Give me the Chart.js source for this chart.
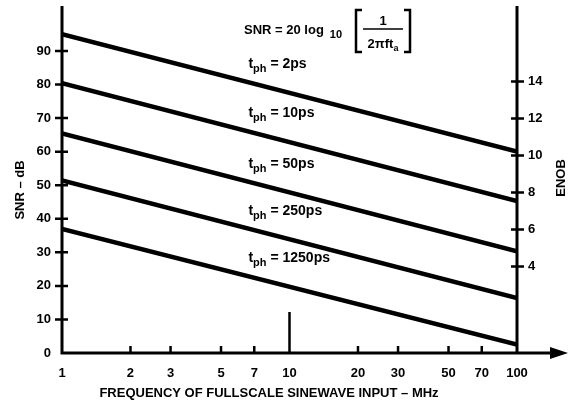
<!DOCTYPE html>
<html>
<head>
<meta charset="utf-8">
<script src="https://cdn.jsdelivr.net/npm/chart.js@4/dist/chart.umd.min.js"></script>
<style>
  body { margin: 0; background: #fff; }
  #wrap { width: 570px; height: 404px; position: relative; }
</style>
</head>
<body>
<div id="wrap"><canvas id="chartSnr"></canvas></div>
<script>
// aperture jitter lines, SNR in dB read at 1 MHz and 100 MHz
var freqEnds = [1, 100];
var tphLabels = ['2ps', '10ps', '50ps', '250ps', '1250ps'];
var snrAt1 = [95, 80.4, 65.4, 51.4, 37];
var snrAt100 = [60, 45.3, 30.3, 16.4, 2.5];
var xTicks = [1, 2, 3, 5, 7, 10, 20, 30, 50, 70, 100];
var yTicks = [0, 10, 20, 30, 40, 50, 60, 70, 80, 90];
var enobTicks = [4, 6, 8, 10, 12, 14];

var FONT = '"Liberation Sans", Arial, sans-serif';
Chart.defaults.font.family = FONT;
Chart.defaults.font.weight = 'bold';
Chart.defaults.font.size = 13;
Chart.defaults.color = '#000';

var datasets = tphLabels.map(function (t, i) {
    return {
        label: t,
        data: [{x: freqEnds[0], y: snrAt1[i]}, {x: freqEnds[1], y: snrAt100[i]}],
        borderColor: '#000',
        borderWidth: 4.5,
        pointRadius: 0,
        fill: false
    };
});

// value of line i at frequency f (straight on the log axis)
function lineAt(i, f) {
    var k = Math.log10(f / freqEnds[0]) / Math.log10(freqEnds[1] / freqEnds[0]);
    return snrAt1[i] + (snrAt100[i] - snrAt1[i]) * k;
}

function fixTicks(list) {
    return function (scale) {
        scale.ticks = list.map(function (v) { return {value: v}; });
    };
}

function fitTo(size) {
    return function (scale) {
        if (scale.isHorizontal()) scale.height = size; else scale.width = size;
        scale.paddingTop = 0;
        scale.paddingBottom = 0;
        scale.paddingLeft = 0;
        scale.paddingRight = 0;
    };
}

var decorPlugin = {
    id: 'decor',
    afterDraw: function (chart) {
        var ctx = chart.ctx;
        var a = chart.chartArea;
        var sx = chart.scales.x, sy = chart.scales.y, sy2 = chart.scales.y2;
        ctx.save();
        ctx.strokeStyle = '#000';
        ctx.fillStyle = '#000';
        ctx.lineCap = 'butt';

        // axis lines
        ctx.lineWidth = 3;
        ctx.beginPath();
        ctx.moveTo(a.left, a.top); ctx.lineTo(a.left, a.bottom + 1.5);
        ctx.moveTo(a.right, a.top); ctx.lineTo(a.right, a.bottom + 1.5);
        ctx.moveTo(a.left - 1.5, a.bottom); ctx.lineTo(556, a.bottom);
        ctx.stroke();
        ctx.beginPath();
        ctx.moveTo(568, a.bottom);
        ctx.lineTo(550, a.bottom - 6);
        ctx.lineTo(550, a.bottom + 6);
        ctx.closePath();
        ctx.fill();

        // tick marks crossing the axes
        ctx.lineWidth = 2.5;
        ctx.beginPath();
        yTicks.forEach(function (v) {
            if (v === 0) return;
            var py = sy.getPixelForValue(v);
            ctx.moveTo(a.left - 7, py); ctx.lineTo(a.left + 6, py);
        });
        enobTicks.forEach(function (v) {
            var py = sy2.getPixelForValue(v);
            ctx.moveTo(a.right - 6, py); ctx.lineTo(a.right + 7, py);
        });
        xTicks.forEach(function (v) {
            if (v === xTicks[0] || v === xTicks[xTicks.length - 1]) return;
            var px = sx.getPixelForValue(v);
            ctx.moveTo(px, a.bottom); ctx.lineTo(px, a.bottom - (v === 10 ? 41 : 7));
        });
        ctx.stroke();

        // t_ph labels above each line
        ctx.textBaseline = 'alphabetic';
        ctx.textAlign = 'left';
        tphLabels.forEach(function (t, i) {
            var f = 6.6;
            var x = sx.getPixelForValue(f);
            var y = sy.getPixelForValue(lineAt(i, f)) - 14;
            ctx.font = 'bold 14px ' + FONT;
            ctx.fillText('t', x, y);
            var w = ctx.measureText('t').width;
            ctx.font = 'bold 11px ' + FONT;
            ctx.fillText('ph', x + w, y + 4);
            var w2 = ctx.measureText('ph').width;
            ctx.font = 'bold 14px ' + FONT;
            ctx.fillText(' = ' + t, x + w + w2, y);
        });

        // formula
        ctx.font = 'bold 13px ' + FONT;
        ctx.fillText('SNR = 20 log', 244, 34);
        var fw = ctx.measureText('SNR = 20 log').width;
        ctx.font = 'bold 11px ' + FONT;
        ctx.fillText('10', 244 + fw + 6, 38);
        ctx.lineWidth = 2.5;
        ctx.beginPath();
        ctx.moveTo(362, 10); ctx.lineTo(356, 10); ctx.lineTo(356, 52); ctx.lineTo(362, 52);
        ctx.moveTo(404, 10); ctx.lineTo(410, 10); ctx.lineTo(410, 52); ctx.lineTo(404, 52);
        ctx.stroke();
        ctx.lineWidth = 1.5;
        ctx.beginPath();
        ctx.moveTo(363, 29); ctx.lineTo(403, 29);
        ctx.stroke();
        ctx.textAlign = 'center';
        ctx.font = 'bold 13px ' + FONT;
        ctx.fillText('1', 383, 25);
        var dw = ctx.measureText('2\u03c0ft').width;
        ctx.font = 'bold 9px ' + FONT;
        var sw = ctx.measureText('a').width;
        ctx.textAlign = 'left';
        var dx = 383 - (dw + sw) / 2;
        ctx.font = 'bold 13px ' + FONT;
        ctx.fillText('2\u03c0ft', dx, 48);
        ctx.font = 'bold 9px ' + FONT;
        ctx.fillText('a', dx + dw, 51);

        // axis titles
        ctx.font = 'bold 13px ' + FONT;
        ctx.textAlign = 'center';
        ctx.textBaseline = 'middle';
        ctx.fillText('FREQUENCY OF FULLSCALE SINEWAVE INPUT \u2013 MHz', 269, 393);
        ctx.save();
        ctx.translate(20, 190);
        ctx.rotate(-Math.PI / 2);
        ctx.fillText('SNR \u2013 dB', 0, 0);
        ctx.restore();
        ctx.save();
        ctx.translate(561, 178);
        ctx.rotate(-Math.PI / 2);
        ctx.fillText('ENOB', 0, 0);
        ctx.restore();
        ctx.restore();
    }
};

const ctx = document.getElementById('chartSnr').getContext('2d');
const snrChart = new Chart(ctx, {
    type: 'line',
    data: { datasets: datasets },
    options: {
        responsive: true,
        maintainAspectRatio: false,
        animation: false,
        layout: { padding: { top: 6, left: 0, right: 0, bottom: 0 } },
        plugins: {
            legend: { display: false },
            tooltip: { enabled: false }
        },
        scales: {
            x: {
                type: 'logarithmic',
                min: 1,
                max: 100,
                afterBuildTicks: fixTicks(xTicks),
                afterFit: fitTo(51),
                grid: { display: false, drawTicks: false },
                border: { display: false },
                ticks: {
                    padding: 13,
                    maxRotation: 0,
                    autoSkip: false,
                    callback: function (v) { return String(v); }
                }
            },
            y: {
                type: 'linear',
                position: 'left',
                min: 0,
                max: 103.4,
                afterBuildTicks: fixTicks(yTicks),
                afterFit: fitTo(62),
                grid: { display: false, drawTicks: false },
                border: { display: false },
                ticks: { padding: 11, autoSkip: false }
            },
            y2: {
                type: 'linear',
                position: 'right',
                min: -0.686,
                max: 18.09,
                afterBuildTicks: fixTicks(enobTicks),
                afterFit: fitTo(53),
                grid: { display: false, drawTicks: false },
                border: { display: false },
                ticks: { padding: 11, autoSkip: false }
            }
        }
    },
    plugins: [decorPlugin]
});
</script>
</body>
</html>
